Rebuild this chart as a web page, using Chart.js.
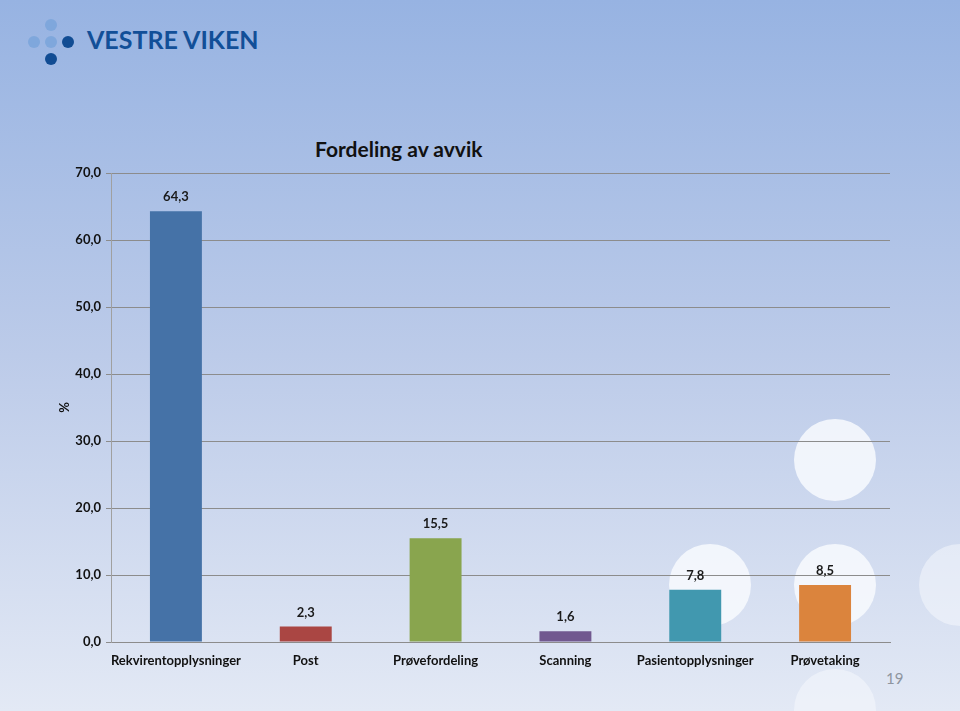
<!DOCTYPE html>
<html lang="no">
<head>
    <meta charset="UTF-8">
    <title>Fordeling av avvik</title>
    <script src="https://cdn.jsdelivr.net/npm/chart.js"></script>
    <style>
        html, body {
            margin: 0;
            padding: 0;
        }

        body {
            width: 960px;
            height: 711px;
            position: relative;
            overflow: hidden;
            background: linear-gradient(to bottom, #97b3e2 0%, #bccbe9 50%, #e3e9f5 100%);
            font-family: Lato, "Open Sans", sans-serif;
        }

        .dot {
            position: absolute;
            width: 12px;
            height: 12px;
            border-radius: 50%;
        }
        .dot.light { background: #7fa7dc; }
        .dot.dark { background: #114c93; }

        .brand {
            position: absolute;
            left: 87px;
            top: 24px;
            font: 700 25px Lato, sans-serif;
            color: #124f98;
        }

        .circle {
            position: absolute;
            width: 82px;
            height: 82px;
            border-radius: 50%;
            background: rgba(248, 250, 254, 0.85);
        }
        .circle.faint { background: rgba(248, 250, 254, 0.5); }

        .chart-title {
            position: absolute;
            left: 315px;
            top: 136px;
            font: 700 21px Lato, sans-serif;
            color: #111;
        }

        .page-no {
            position: absolute;
            left: 886px;
            top: 669px;
            font: 400 15px Lato, sans-serif;
            color: #8e959f;
        }

        #wrap {
            position: absolute;
            left: 0;
            top: 0;
            width: 960px;
            height: 711px;
        }
    </style>
</head>
<body>
    <!-- logo -->
    <div class="dot light" style="left: 45px; top: 19px"></div>
    <div class="dot light" style="left: 28px; top: 36px"></div>
    <div class="dot light" style="left: 45px; top: 36px"></div>
    <div class="dot dark" style="left: 62px; top: 36px"></div>
    <div class="dot dark" style="left: 45px; top: 53px"></div>
    <div class="brand">VESTRE VIKEN</div>

    <!-- decoration circles -->
    <div class="circle" style="left: 794px; top: 419px"></div>
    <div class="circle" style="left: 669px; top: 544px"></div>
    <div class="circle" style="left: 794px; top: 544px"></div>
    <div class="circle faint" style="left: 919px; top: 544px"></div>
    <div class="circle faint" style="left: 794px; top: 669px"></div>

    <div class="chart-title">Fordeling av avvik</div>
    <div class="page-no">19</div>

    <div id="wrap"><canvas id="chart"></canvas></div>

    <script>
        const categories = ['Rekvirentopplysninger', 'Post', 'Prøvefordeling', 'Scanning', 'Pasientopplysninger', 'Prøvetaking'];
        const values = [64.3, 2.3, 15.5, 1.6, 7.8, 8.5];
        const barColors = ['#4572a7', '#aa4643', '#89a54e', '#71588f', '#4198af', '#db843d'];
        const yTicks = [0, 10, 20, 30, 40, 50, 60, 70];

        const fmt = v => v.toFixed(1).replace('.', ',');

        // value labels above each bar
        const valueLabels = {
            id: 'valueLabels',
            afterDatasetsDraw(chart) {
                const ctx = chart.ctx;
                const meta = chart.getDatasetMeta(0);
                ctx.save();
                ctx.font = '700 13px Lato, sans-serif';
                ctx.fillStyle = '#1a1a1a';
                ctx.textAlign = 'center';
                ctx.textBaseline = 'middle';
                meta.data.forEach((bar, i) => {
                    ctx.fillText(fmt(values[i]), bar.x, bar.y - 14);
                });
                ctx.restore();
            }
        };

        Chart.defaults.font.family = 'Lato, sans-serif';
        Chart.defaults.color = '#1a1a1a';

        new Chart(document.getElementById('chart'), {
            type: 'bar',
            data: {
                labels: categories,
                datasets: [{
                    data: values,
                    backgroundColor: barColors,
                    barPercentage: 0.4,
                    categoryPercentage: 1
                }]
            },
            options: {
                responsive: true,
                maintainAspectRatio: false,
                animation: false,
                layout: {
                    padding: { left: 57, right: 70, top: 173, bottom: 0 }
                },
                plugins: {
                    legend: { display: false },
                    tooltip: { enabled: false }
                },
                scales: {
                    x: {
                        grid: { display: false, drawTicks: false },
                        border: { display: true, color: '#8c8c8c' },
                        ticks: {
                            padding: 11,
                            maxRotation: 0,
                            minRotation: 0,
                            autoSkip: false,
                            font: { size: 13, weight: 'bold' },
                            color: '#111'
                        },
                        afterFit(scale) { scale.height = 69; }
                    },
                    y: {
                        min: 0,
                        max: 70,
                        afterBuildTicks(scale) {
                            scale.ticks = yTicks.map(v => ({ value: v }));
                        },
                        grid: { color: '#8c8c8c', tickLength: 5 },
                        border: { color: '#a0a0a0' },
                        ticks: {
                            padding: 5,
                            font: { size: 13, weight: 'bold' },
                            color: '#111',
                            callback: v => fmt(v)
                        },
                        title: {
                            display: true,
                            text: '%',
                            font: { size: 13, weight: 'bold' },
                            color: '#111',
                            padding: 0
                        },
                        afterFit(scale) { scale.width = 54; }
                    }
                }
            },
            plugins: [valueLabels]
        });
    </script>
</body>
</html>
